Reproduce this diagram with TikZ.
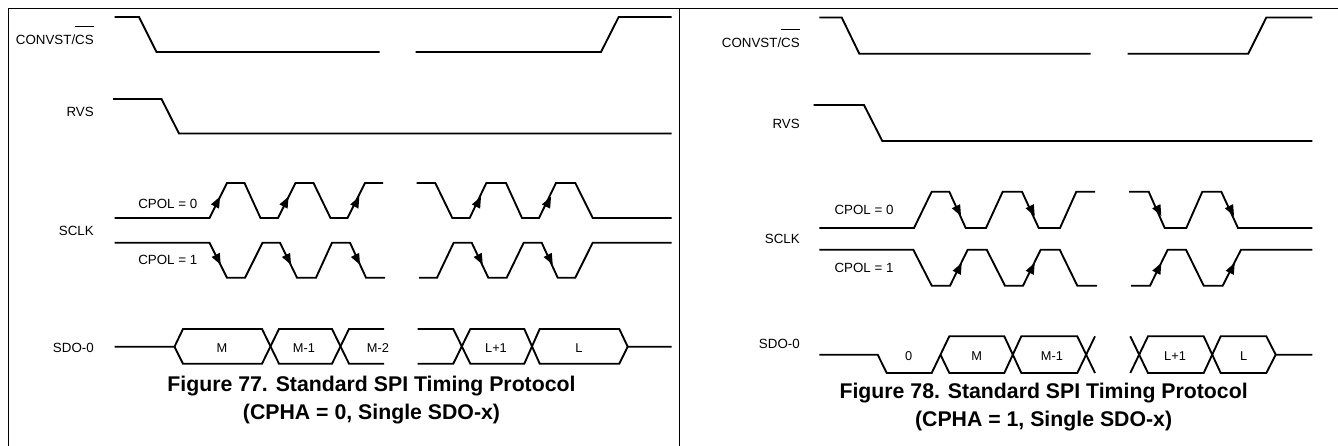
\documentclass[tikz,border=0pt]{standalone}
\usepackage{fontspec}
\setmainfont{Liberation Sans}
\newcommand{\ovbar}[1]{\leavevmode\setbox0\hbox{#1}\rlap{\raisebox{12.6pt}{\rule{\wd0}{0.55pt}}}\box0}
\newcommand{\headat}[3]{\fill[shift={(#1,#2)},rotate=#3] (0,0)--(-11,4.6)--(-11,-4.6)--cycle;}
\tikzset{
  wave/.style={line width=1.4pt,line join=miter,black},
  frameline/.style={line width=0.8pt,black},
  siglabel/.style={anchor=base east,inner sep=0pt,font=\fontsize{10}{12}\selectfont},
  cpollabel/.style={anchor=base west,inner sep=0pt,font=\fontsize{10}{12}\selectfont},
  datalabel/.style={anchor=base,inner sep=0pt,font=\fontsize{9.6}{12}\selectfont},
  captionline/.style={anchor=base,inner sep=0pt,font=\fontsize{15.95}{18}\selectfont\bfseries}
}
\begin{document}
\begin{tikzpicture}[x=0.75pt,y=-0.75pt]
\useasboundingbox (0,0) rectangle (1338,446);
% frame
\draw[frameline] (8.5,446)--(8.5,8.5)--(1338,8.5);
\draw[frameline] (679.5,8.5)--(679.5,446);

% ---- Figure 77 ----
\draw[wave] (114.5,17)--(139,17)--(156.5,52)--(379.5,52);
\draw[wave] (415.7,52)--(601,52)--(618.7,17)--(671.7,17);
\draw[wave] (113,99)--(161.5,99)--(179,133.5)--(671.7,133.5);
% SCLK CPOL=0
\draw[wave] (114.5,218)--(209.5,218)--(227,183)--(244.5,183)--(260.5,218)--(278,218)--(295.5,183)--(313.5,183)--(330.5,218)--(347.5,218)--(365,183)--(383,183);
\draw[wave] (416.7,183)--(435.3,183)--(452.3,218)--(469.7,218)--(486.3,183)--(506,183)--(522,218)--(539,218)--(556,183)--(575.3,183)--(592.7,218)--(671.7,218);
\headat{220}{196.7}{63}\headat{288.5}{196.7}{63}\headat{359.3}{196.7}{63}\headat{481}{196.7}{63}\headat{551}{196.7}{63}
% SCLK CPOL=1
\draw[wave] (114.5,242.7)--(209.5,242.7)--(227,277.7)--(245,277.7)--(262.5,242.7)--(280,242.7)--(297,277.7)--(316,277.7)--(332,242.7)--(350,242.7)--(366,277.7)--(385,277.7);
\draw[wave] (419,277.7)--(437,277.7)--(453.7,242.7)--(471.7,242.7)--(488.3,277.7)--(506.7,277.7)--(523.7,242.7)--(541.7,242.7)--(557.7,277.7)--(575.3,277.7)--(592.7,242.7)--(671.7,242.7);
\headat{220.7}{264.7}{-63}\headat{291}{264.7}{-63}\headat{360}{264.7}{-63}\headat{482.7}{264.7}{-63}\headat{552.7}{264.7}{-63}
% SDO-0
\draw[wave] (114.5,346.7)--(174.5,346.7)--(183,329)--(262,329)--(279,363.7)--(332,363.7)--(349,329)--(384,329);
\draw[wave] (174.5,346.7)--(183,363.7)--(262,363.7)--(279,329)--(332,329)--(349,363.7)--(384,363.7);
\draw[wave] (417.7,329)--(453.3,329)--(470.3,363.7)--(524.3,363.7)--(539.7,329)--(619.3,329)--(627.7,346.7)--(671.7,346.7);
\draw[wave] (417.7,363.7)--(453.3,363.7)--(470.3,329)--(524.3,329)--(539.7,363.7)--(619.3,363.7)--(627.7,346.7);

\node[siglabel] (a1) at (94,44) {CONVST/\ovbar{CS}};
\node[siglabel] (a2) at (94,116) {RVS};
\node[siglabel] (a3) at (94,235.5) {SCLK};
\node[siglabel] (a4) at (94,352) {SDO-0};
\node[cpollabel] (a5) at (138,208) {CPOL = 0};
\node[cpollabel] (a6) at (138,264) {CPOL = 1};
\node[datalabel] (a7) at (222,352) {M};
\node[datalabel] (a8) at (304,352) {M-1};
\node[datalabel] (a9) at (378,352) {M-2};
\node[datalabel] (a10) at (496,352) {L+1};
\node[datalabel] (a11) at (579,352) {L};
\node[captionline] (a12) at (371.5,391) {Figure 77. Standard SPI Timing Protocol};
\node[captionline] (a13) at (371.5,419.5) {(CPHA = 0, Single SDO-x)};

% ---- Figure 78 ----
\draw[wave] (819.3,17.5)--(841.7,17.5)--(859.3,53.7)--(1090.7,53.7);
\draw[wave] (1127.7,53.7)--(1248.3,53.7)--(1266.3,17.5)--(1312.3,17.5);
\draw[wave] (813.7,105)--(864,105)--(882.3,141)--(1312.3,141);
% SCLK CPOL=0
\draw[wave] (819.3,228)--(914,228)--(931.7,191.7)--(949.3,191.7)--(965.7,228)--(986,228)--(1002.7,191.7)--(1022,191.7)--(1038.7,228)--(1060,228)--(1076.3,191.7)--(1095,191.7);
\draw[wave] (1129,191.7)--(1148.7,191.7)--(1164.7,228)--(1186.3,228)--(1202.3,191.7)--(1221.3,191.7)--(1238,228)--(1312.3,228);
\headat{961}{216}{-63}\headat{1034.7}{216}{-63}\headat{1161.3}{216}{-63}\headat{1234}{216}{-63}
% SCLK CPOL=1
\draw[wave] (819.3,249.7)--(913.3,249.7)--(931.7,285.7)--(950,285.7)--(967.7,249.7)--(986.7,249.7)--(1005,285.7)--(1023,285.7)--(1040.7,249.7)--(1059.7,249.7)--(1077.3,285.7)--(1097,285.7);
\draw[wave] (1131,285.7)--(1150,285.7)--(1167.7,249.7)--(1186,249.7)--(1203.7,285.7)--(1222.7,285.7)--(1241,249.7)--(1312.3,249.7);
\headat{961.7}{263}{63}\headat{1034.7}{263}{63}\headat{1161.3}{263}{63}\headat{1234.7}{263}{63}
% SDO-0
\draw[wave] (819.3,354.7)--(877.7,354.7)--(886.7,373)--(931.7,373)--(949.3,336.3)--(1004.3,336.3)--(1021.3,373)--(1077.3,373)--(1095,336.3);
\draw[wave] (940.5,354.7)--(949.3,373)--(1004.3,373)--(1021.3,336.3)--(1077.3,336.3)--(1095,373);
\draw[wave] (1130.3,336.3)--(1148,373)--(1203.7,373)--(1220.7,336.3)--(1266.3,336.3)--(1275.7,354.7)--(1312.3,354.7);
\draw[wave] (1130.3,373)--(1148,336.3)--(1203.7,336.3)--(1220.7,373)--(1266.3,373)--(1275.7,354.7);

\node[siglabel] (b1) at (800,47) {CONVST/\ovbar{CS}};
\node[siglabel] (b2) at (800,128) {RVS};
\node[siglabel] (b3) at (800,243) {SCLK};
\node[siglabel] (b4) at (800,348) {SDO-0};
\node[cpollabel] (b5) at (834.3,214) {CPOL = 0};
\node[cpollabel] (b6) at (834.3,272) {CPOL = 1};
\node[datalabel] (b7) at (908.7,360) {0};
\node[datalabel] (b8) at (976.7,360) {M};
\node[datalabel] (b9) at (1052,360) {M-1};
\node[datalabel] (b10) at (1175,360) {L+1};
\node[datalabel] (b11) at (1243.7,360) {L};
\node[captionline] (b12) at (1043.6,398) {Figure 78. Standard SPI Timing Protocol};
\node[captionline] (b13) at (1043.6,426.5) {(CPHA = 1, Single SDO-x)};
\end{tikzpicture}
\end{document}
